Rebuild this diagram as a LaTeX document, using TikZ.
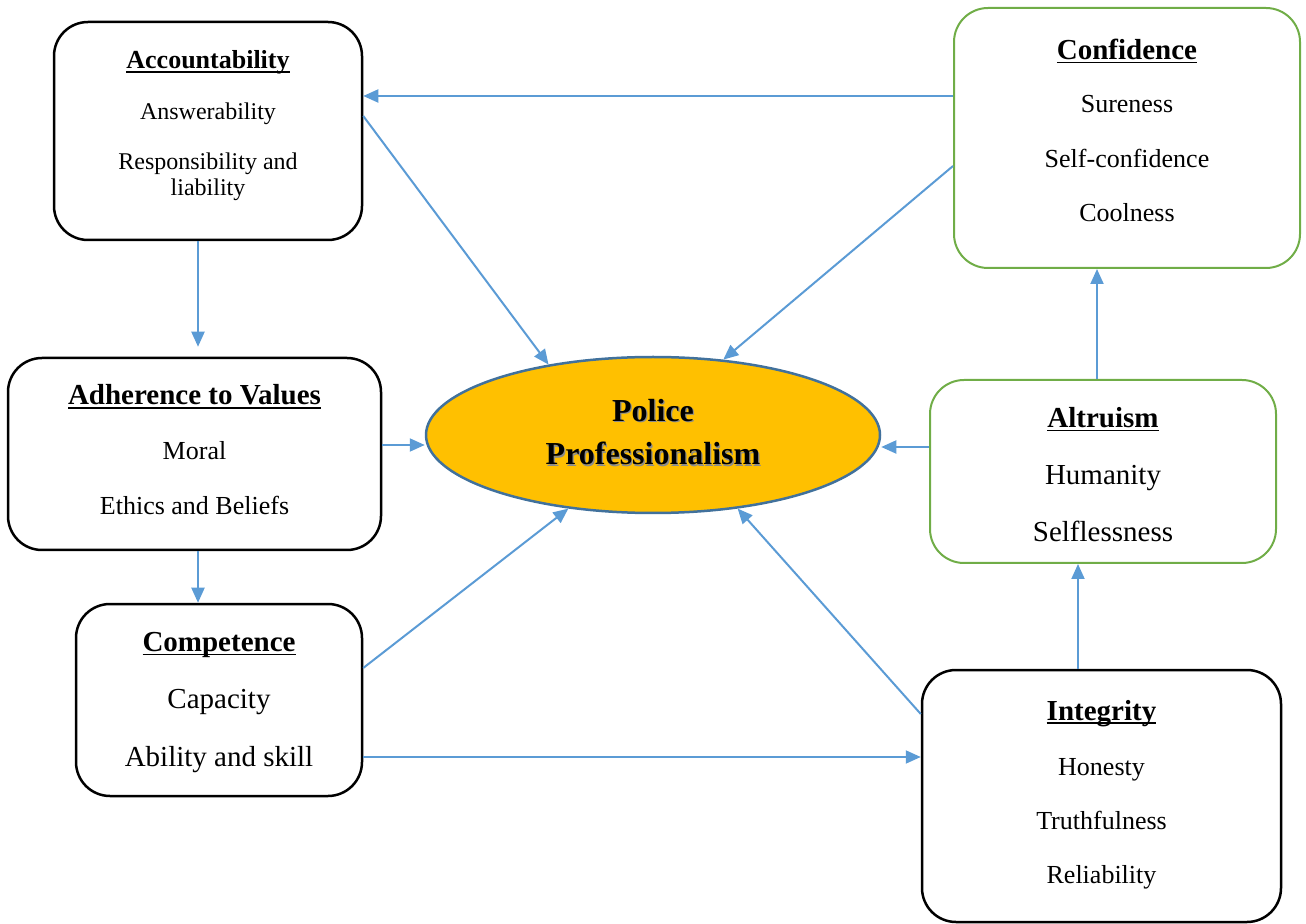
\documentclass[tikz,border=0pt]{standalone}
\usepackage{fontspec}
\setmainfont{Liberation Serif}
\usetikzlibrary{arrows.meta,shapes.geometric}

\definecolor{arrowblue}{HTML}{5B9BD5}
\definecolor{ellborder}{HTML}{41719C}
\definecolor{ellfill}{HTML}{FFC000}
\definecolor{boxgreen}{HTML}{70AD47}

\newcommand{\headline}[1]{\setbox0=\hbox{\bfseries #1}\rlap{\rule[-1.8pt]{\wd0}{0.75pt}}\box0}

\begin{document}
\begin{tikzpicture}[x=0.5pt,y=-0.5pt,
    box/.style={draw,line width=1.25pt,rounded corners=17pt,inner sep=0pt},
    greenbox/.style={box,draw=boxgreen,line width=1pt},
    txt/.style={anchor=base,inner sep=0pt,font=\fontsize{#1}{#1}\selectfont},
    arr/.style={draw=arrowblue,line width=1pt,-{Triangle[length=7.5pt,width=6.5pt]}}]

    % Fix the size of the page
    \useasboundingbox (0,0) rectangle (1306,924);

    % Draw the boxes
    \node[box,minimum width=154pt,minimum height=109pt] (acc) at (208,131) {};
    \node[greenbox,minimum width=173pt,minimum height=130pt] (conf) at (1127,138) {};
    \node[box,minimum width=186.5pt,minimum height=96pt] (adh) at (194.5,454) {};
    \node[greenbox,minimum width=173pt,minimum height=91.5pt] (alt) at (1103,471.5) {};
    \node[box,minimum width=143pt,minimum height=96pt] (comp) at (219,700) {};
    \node[box,minimum width=179.5pt,minimum height=126pt] (integ) at (1101.5,796) {};

    % Draw the ellipse in the middle
    \node[ellipse,draw=ellborder,fill=ellfill,line width=1.25pt,
          minimum width=227pt,minimum height=78pt,inner sep=0pt] (ell) at (653,435) {};
    \foreach \t/\y [count=\i] in {Police/421.7,Professionalism/465}
      {
        \node[txt=16,text=black!45] (ell-s\i) at (654.2,\y+1.2) {\bfseries \t};
        \node[txt=16] (ell-\i) at (653,\y) {\bfseries \t};
      }

    % Accountability
    \node[txt=13] (acc-0) at (208,69) {\headline{Accountability}};
    \foreach \t/\y [count=\i] in {Answerability/120,Responsibility and/170,liability/196}
      \node[txt=12] (acc-\i) at (208,\y) {\t};

    % Confidence
    \node[txt=14.5] (conf-0) at (1127,59.5) {\headline{Confidence}};
    \foreach \t/\y [count=\i] in {Sureness/112.5,Self-confidence/167.5,Coolness/221.5}
      \node[txt=13] (conf-\i) at (1127,\y) {\t};

    % Adherence to Values
    \node[txt=14.5] (adh-0) at (194.5,405) {\headline{Adherence to Values}};
    \foreach \t/\y [count=\i] in {Moral/460,Ethics and Beliefs/515}
      \node[txt=13] (adh-\i) at (194.5,\y) {\t};

    % Altruism
    \node[txt=14.5] (alt-0) at (1103,427.5) {\headline{Altruism}};
    \foreach \t/\y [count=\i] in {Humanity/484.5,Selflessness/541.5}
      \node[txt=14.5] (alt-\i) at (1103,\y) {\t};

    % Competence
    \node[txt=14.5] (comp-0) at (219,651.7) {\headline{Competence}};
    \foreach \t/\y [count=\i] in {Capacity/708,Ability and skill/766.7}
      \node[txt=14.5] (comp-\i) at (219,\y) {\t};

    % Integrity
    \node[txt=14.5] (integ-0) at (1101.5,720) {\headline{Integrity}};
    \foreach \t/\y [count=\i] in {Honesty/775,Truthfulness/829,Reliability/883}
      \node[txt=13] (integ-\i) at (1101.5,\y) {\t};

    % Connect the boxes
    \draw[arr] ([yshift=21pt]conf.west) coordinate (c1) -- (c1 -| acc.east);
    \draw[arr] ([yshift=7.5pt]acc.east) -- (ell.146);
    \draw[arr] ([yshift=-14pt]conf.west) -- (ell.47);
    \draw[arr,shorten >=5pt] ([xshift=-5pt]acc.south) coordinate (c4) -- (c4 |- adh.north);
    \draw[arr] ([yshift=4.5pt]adh.east) coordinate (c5) -- (c5 -| ell.west);
    \draw[arr] ([yshift=12.25pt]alt.west) coordinate (c6) -- (c6 -| ell.east);
    \draw[arr] ([xshift=-3pt]alt.north) coordinate (c7) -- (c7 |- conf.south);
    \draw[arr] ([xshift=1.75pt]adh.south) coordinate (c8) -- (c8 |- comp.north);
    \draw[arr] ([yshift=16pt]comp.east) -- (ell.221);
    \draw[arr] ([yshift=41pt]integ.west) -- (ell.319);
    \draw[arr] ([xshift=-11.75pt]integ.north) coordinate (c11) -- (c11 |- alt.south);
    \draw[arr] ([yshift=-28.5pt]comp.east) coordinate (c12) -- (c12 -| integ.west);
\end{tikzpicture}
\end{document}
